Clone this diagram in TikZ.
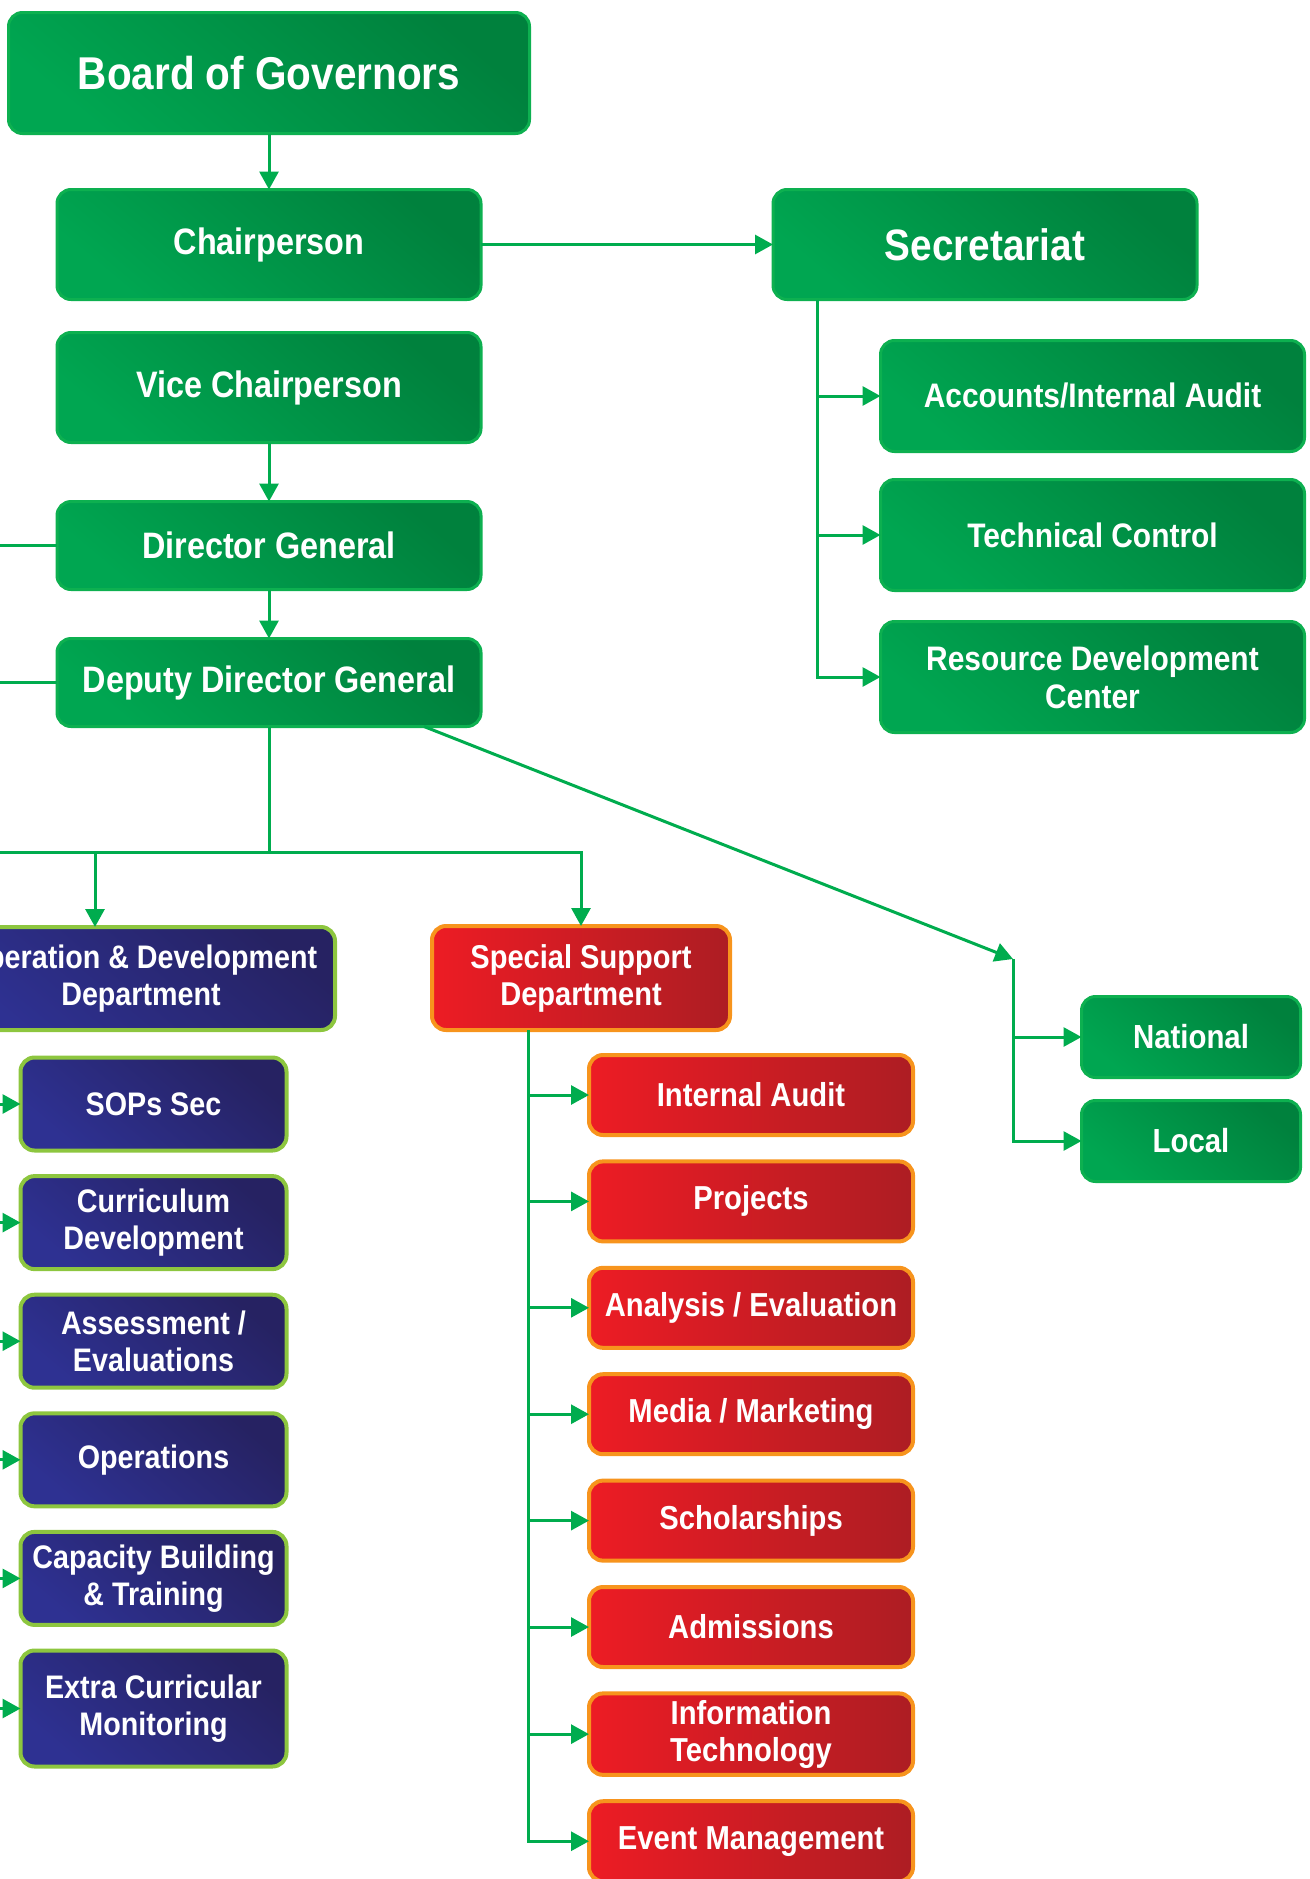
\documentclass[tikz,border=0pt]{standalone}
\usepackage{fontspec}
\setmainfont{Liberation Sans}[FakeStretch=0.88]
\usetikzlibrary{arrows.meta, positioning}
\definecolor{gdark}{HTML}{00813D}
\definecolor{glight}{HTML}{00A651}
\definecolor{gedge}{HTML}{0DB050}
\definecolor{gline}{HTML}{00AC4E}
\definecolor{bdark}{HTML}{262262}
\definecolor{blight}{HTML}{2E3192}
\definecolor{bedge}{HTML}{8DC63F}
\definecolor{rlight}{HTML}{ED1C24}
\definecolor{rdark}{HTML}{AD1D23}
\definecolor{redge}{HTML}{F7941D}

\begin{document}
\begin{tikzpicture}[
    x=0.5pt, y=-0.5pt,
    box/.style={rectangle, rounded corners=7pt, align=center, text=white, outer sep=0pt, line width=1.5pt},
    gbox/.style={box, draw=gedge, top color=gdark, bottom color=glight, shading angle=-40, minimum width=212pt, minimum height=44pt, font=\bfseries\fontsize{18.4}{20}\selectfont},
    gsub/.style={gbox, minimum height=55.5pt, font=\bfseries\fontsize{17}{19}\selectfont},
    bbox/.style={box, draw=bedge, line width=2pt, top color=bdark, bottom color=blight, shading angle=-40, minimum width=133pt, minimum height=46.5pt, font=\bfseries\fontsize{16.3}{18.5}\selectfont},
    rbox/.style={box, draw=redge, line width=2pt, left color=rlight, right color=rdark, minimum width=162pt, minimum height=40pt, font=\bfseries\fontsize{16.6}{18.5}\selectfont},
    conn/.style={draw=gline, line width=1.5pt},
    arrow/.style={conn, -{Triangle[length=9pt, width=9.5pt]}}
]
    \useasboundingbox (0,0) rectangle (1310,1879);
    \clip (0,0) rectangle (1310,1879);

    \node[gbox, minimum width=260.5pt, minimum height=60.5pt, font=\bfseries\fontsize{23}{25}\selectfont] (board) at (269,73) {Board of Governors};
    \node[gbox, minimum height=55pt, below=28pt of board] (chair) {Chairperson};
    \node[gbox, minimum height=55pt, below=16.5pt of chair] (vice) {Vice Chairperson};
    \node[gbox, below=29.5pt of vice] (dg) {Director General};
    \node[gbox, below=24.5pt of dg] (ddg) {Deputy Director General};

    \node[gbox, minimum height=55pt, right=146pt of chair, font=\bfseries\fontsize{22}{24}\selectfont] (sec) {Secretariat};
    \node[gsub] (acc) at (1092.5,396) {Accounts/Internal Audit};
    \node[gsub, below=14pt of acc] (tech) {Technical Control};
    \node[gsub, below=15.5pt of tech] (rdc) {Resource Development\\Center};

    \node[gbox, minimum width=109.5pt, minimum height=40.5pt, font=\bfseries\fontsize{16.7}{18.5}\selectfont] (nat) at (1191,1037) {National};
    \node[gbox, minimum width=109.5pt, minimum height=40.5pt, font=\bfseries\fontsize{16.7}{18.5}\selectfont, below=11.5pt of nat] (loc) {Local};

    \node[bbox, minimum width=194pt, minimum height=51.5pt] (odd) at (141,978.5) {Operation \& Development\\Department};
    \node[bbox] (sops) at (153.5,1104) {SOPs Sec};
    \node[bbox, below=12.8pt of sops] (curr) {Curriculum\\Development};
    \node[bbox, below=12.8pt of curr] (asse) {Assessment /\\Evaluations};
    \node[bbox, below=12.8pt of asse] (ops) {Operations};
    \node[bbox, below=12.8pt of ops] (cap) {Capacity Building\\\& Training};
    \node[bbox, minimum height=58pt, below=12.8pt of cap] (extra) {Extra Curricular\\Monitoring};

    \node[rbox, minimum width=149pt, minimum height=52pt, font=\bfseries\fontsize{16.5}{18.5}\selectfont] (ssd) at (581,978) {Special Support\\Department};
    \node[rbox] (ia) at (751,1095) {Internal Audit};
    \node[rbox, below=13.2pt of ia] (proj) {Projects};
    \node[rbox, below=13.2pt of proj] (ana) {Analysis / Evaluation};
    \node[rbox, below=13.2pt of ana] (med) {Media / Marketing};
    \node[rbox, below=13.2pt of med] (sch) {Scholarships};
    \node[rbox, below=13.2pt of sch] (adm) {Admissions};
    \node[rbox, below=13.2pt of adm] (it) {Information\\Technology};
    \node[rbox, below=13.2pt of it] (em) {Event Management};

    \coordinate (lft) at (-40,0);
    \coordinate (st) at ([xshift=22pt]sec.south west);
    \coordinate[below=63pt of ddg.south] (bus);
    \coordinate (odin) at ([xshift=-23pt]odd.north);
    \coordinate (dstart) at ([xshift=-28.5pt]ddg.south east);
    \coordinate (nl) at (1013,959);
    \coordinate (rt) at ([xshift=48pt]ssd.south west);

    \draw[arrow] (board) -- (chair);
    \draw[arrow] (chair) -- (sec);
    \draw[arrow] (vice) -- (dg);
    \draw[arrow] (dg) -- (ddg);
    \draw[conn] (lft |- dg) -- (dg);
    \draw[conn] (lft |- ddg) -- (ddg);

    \draw[arrow] (st) |- (rdc);
    \draw[arrow] (st |- acc) -- (acc);
    \draw[arrow] (st |- tech) -- (tech);

    \draw[conn] (ddg) -- (bus);
    \draw[arrow] (lft |- bus) -| (ssd);
    \draw[arrow] (odin |- bus) -- (odin);
    \foreach \n in {sops, curr, asse, ops, cap, extra}
        \draw[arrow] (lft |- \n) -- (\n);

    \draw[arrow] (dstart) -- (nl);
    \draw[arrow] (nl) |- (loc);
    \draw[arrow] (nl |- nat) -- (nat);

    \draw[arrow] (rt) |- (em);
    \foreach \n in {ia, proj, ana, med, sch, adm, it}
        \draw[arrow] (rt |- \n) -- (\n);
\end{tikzpicture}
\end{document}
